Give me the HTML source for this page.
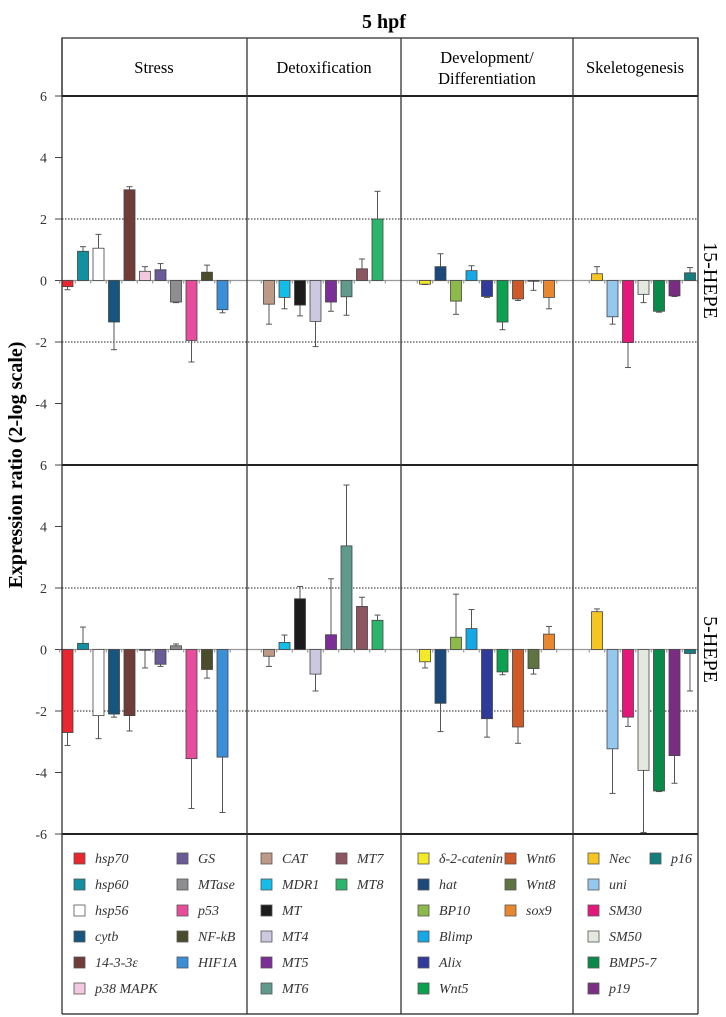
<!DOCTYPE html>
<html><head><meta charset="utf-8"><style>
html,body{margin:0;padding:0;background:#fff}
svg{display:block}
text{font-family:"Liberation Serif",serif}
</style></head><body>
<svg id="c" width="726" height="1017" viewBox="0 0 726 1017"></svg>
<script>
const groups = ["Stress","Detoxification","Development/Differentiation","Skeletogenesis"];
const stressGenes = ["hsp70","hsp60","hsp56","cytb","14-3-3ε","p38 MAPK","GS","MTase","p53","NF-kB","HIF1A"];
const detoxGenes = ["CAT","MDR1","MT","MT4","MT5","MT6","MT7","MT8"];
const devGenes = ["δ-2-catenin","hat","BP10","Blimp","Alix","Wnt5","Wnt6","Wnt8","sox9"];
const skelGenes = ["Nec","uni","SM30","SM50","BMP5-7","p19","p16"];
const stressColors = ["#e8272e","#12909f","#ffffff","#15557f","#703c38","#f2c9de","#6a5a96","#8e8e90","#e84c9c","#4a4c2c","#3b8fd6"];
const detoxColors = ["#bd9a88","#12bde8","#1c1c1c","#cbc8e0","#7b2f96","#5f9a8d","#8c5560","#2bb56a"];
const devColors = ["#f4e926","#1b4a7a","#8db84a","#14a8e6","#2f3a9a","#0aa24e","#cf5a27","#5f7440","#e8872e"];
const skelColors = ["#f6c521","#94c8ee","#e6177a","#e4e9e0","#0a8a4a","#7b2d83","#137e7d"];
// 15-HEPE values and error-bar ends
const stress15 = [-0.2,0.95,1.05,-1.35,2.95,0.3,0.35,-0.7,-1.95,0.27,-0.95];
const stress15Err = [-0.3,1.1,1.5,-2.25,3.05,0.45,0.55,-0.72,-2.65,0.5,-1.05];
const detox15 = [-0.77,-0.55,-0.8,-1.33,-0.7,-0.53,0.38,2.0];
const detox15Err = [-1.42,-0.92,-1.15,-2.15,-1.0,-1.13,0.7,2.9];
const dev15 = [-0.12,0.45,-0.67,0.32,-0.52,-1.35,-0.6,-0.02,-0.55];
const dev15Err = [-0.13,0.87,-1.1,0.48,-0.55,-1.6,-0.65,-0.32,-0.92];
const skel15 = [0.22,-1.18,-2.02,-0.45,-1.0,-0.5,0.25];
const skel15Err = [0.45,-1.42,-2.83,-0.72,-1.03,-0.52,0.42];
// 5-HEPE
const stress5 = [-2.7,0.2,-2.15,-2.1,-2.15,-0.02,-0.48,0.12,-3.55,-0.65,-3.5];
const stress5Err = [-3.12,0.73,-2.9,-2.2,-2.65,-0.6,-0.55,0.18,-5.17,-0.93,-5.3];
const detox5 = [-0.22,0.23,1.65,-0.8,0.48,3.37,1.4,0.95];
const detox5Err = [-0.55,0.47,2.05,-1.35,2.3,5.35,1.7,1.12];
const dev5 = [-0.4,-1.75,0.4,0.68,-2.25,-0.73,-2.52,-0.62,0.5];
const dev5Err = [-0.6,-2.67,1.8,1.3,-2.85,-0.82,-3.05,-0.8,0.75];
const skel5 = [1.23,-3.23,-2.2,-3.93,-4.6,-3.45,-0.13];
const skel5Err = [1.32,-4.68,-2.5,-5.95,-4.62,-4.35,-1.35];
const yTicks = [6,4,2,0,-2,-4,-6];

const svg = document.getElementById('c');
const NS = "http://www.w3.org/2000/svg";
function mk(tag, attrs, parent){const e=document.createElementNS(NS,tag);for(const k in attrs)e.setAttribute(k,attrs[k]);(parent||svg).appendChild(e);return e;}

const L=62, R=698, colX=[62,247,401,573,698];
const panels=[{top:96,bot:465,name:"15-HEPE"},{top:465,bot:834,name:"5-HEPE"}];
function yScale(p,v){const z=(p.top+p.bot)/2;return z - v*(p.bot-p.top)/12;}
const genes=[stressGenes,detoxGenes,devGenes,skelGenes];
const colors=[stressColors,detoxColors,devColors,skelColors];
const vals=[[stress15,detox15,dev15,skel15],[stress5,detox5,dev5,skel5]];
const errs=[[stress15Err,detox15Err,dev15Err,skel15Err],[stress5Err,detox5Err,dev5Err,skel5Err]];
const startOff=[0,16.5,18.5,18.5], step=15.5, bw=11;

let t=mk('text',{x:384,y:28,'text-anchor':'middle','font-size':20,'font-weight':'bold'});
t.textContent="5 hpf";



// header
mk('rect',{x:L,y:38,width:R-L,height:58,fill:'none',stroke:'#333','stroke-width':1.3});
const hdrX=[154,324,487,635];
groups.forEach((g,i)=>{
  let tx;
  if(i===2){
    tx=mk('text',{x:hdrX[i],y:63,'text-anchor':'middle','font-size':16.5});
    const a=mk('tspan',{x:hdrX[i]},tx);a.textContent="Development/";
    const b=mk('tspan',{x:hdrX[i],dy:21},tx);b.textContent="Differentiation";
  } else {
    tx=mk('text',{x:hdrX[i],y:73,'text-anchor':'middle','font-size':16.5});
    tx.textContent=g;
  }
  
  
});

// y axis title
t=mk('text',{x:0,y:0,'text-anchor':'middle','font-size':20,'font-weight':'bold',transform:'translate(22,465) rotate(-90)'});
t.textContent="Expression ratio (2-log scale)";



panels.forEach((p,pi)=>{
  [2,-2].forEach(v=>mk('line',{x1:L,x2:R,y1:yScale(p,v),y2:yScale(p,v),stroke:'#222','stroke-width':1,'stroke-dasharray':'1.5,1.5'}));
  yTicks.forEach(v=>{
    const y=yScale(p,v);
    if(!(pi===1&&v===6)){
      mk('line',{x1:55,x2:L,y1:y,y2:y,stroke:'#444'});
      const tl=mk('text',{x:47,y:y+5,'text-anchor':'end','font-size':14,fill:'#333'});
      tl.textContent=(pi===0&&v===-6)?"6":String(v);
      
      
    }
  });
  const z=yScale(p,0);
  mk('line',{x1:L,x2:R,y1:z,y2:z,stroke:'#999','stroke-width':1.2});
  genes.forEach((gs,gi)=>{
    const x0=colX[gi]+startOff[gi];
    for(let k=0;k<=gs.length;k++){
      const tx=x0+k*step-step/2+bw/2;
      mk('line',{x1:tx,x2:tx,y1:z,y2:z+3,stroke:'#888'});
    }
    gs.forEach((g,k)=>{
      const v=vals[pi][gi][k], e=errs[pi][gi][k];
      const cx=x0+k*step+bw/2;
      const yv=yScale(p,v);
      const ye=yScale(p,e);
      mk('line',{x1:cx,x2:cx,y1:yv,y2:ye,stroke:'#555','stroke-width':1});
      mk('line',{x1:cx-3,x2:cx+3,y1:ye,y2:ye,stroke:'#555','stroke-width':1});
      const r=mk('rect',{x:cx-bw/2,y:Math.min(yv,z),width:bw,height:Math.max(0.8,Math.abs(yv-z)),fill:colors[gi][k],stroke:'#444','stroke-width':0.8});
      
      
    });
  });
  const pl=mk('text',{x:0,y:0,'text-anchor':'middle','font-size':20,transform:`translate(704,${(p.top+p.bot)/2}) rotate(90)`});
  pl.textContent=p.name;
  
  
});

[96,465,834].forEach(y=>mk('line',{x1:L,x2:R,y1:y,y2:y,stroke:'#222','stroke-width':2}));
mk('line',{x1:L,x2:L,y1:38,y2:1014,stroke:'#333','stroke-width':1.3});
mk('line',{x1:R,x2:R,y1:38,y2:1014,stroke:'#333','stroke-width':1.3});
[247,401,573].forEach(x=>mk('line',{x1:x,x2:x,y1:38,y2:1014,stroke:'#333','stroke-width':1.3}));
mk('line',{x1:L,x2:R,y1:1014,y2:1014,stroke:'#222','stroke-width':1.3});

const legCols=[[74,177],[261,336],[418,505],[588,650]];
const rows=6;
genes.forEach((gs,gi)=>{
  gs.forEach((g,k)=>{
    const c=Math.floor(k/rows), r=k%rows;
    const sx=legCols[gi][c], sy=853+r*26;
    const s=mk('rect',{x:sx,y:sy,width:11,height:11,fill:colors[gi][k],stroke:'#555','stroke-width':0.8});
    
    
    const lt=mk('text',{x:sx+21,y:sy+10,'font-size':14,'font-style':'italic',fill:'#333'});
    lt.textContent=g;
    
    
  });
});
</script>
</body></html>
